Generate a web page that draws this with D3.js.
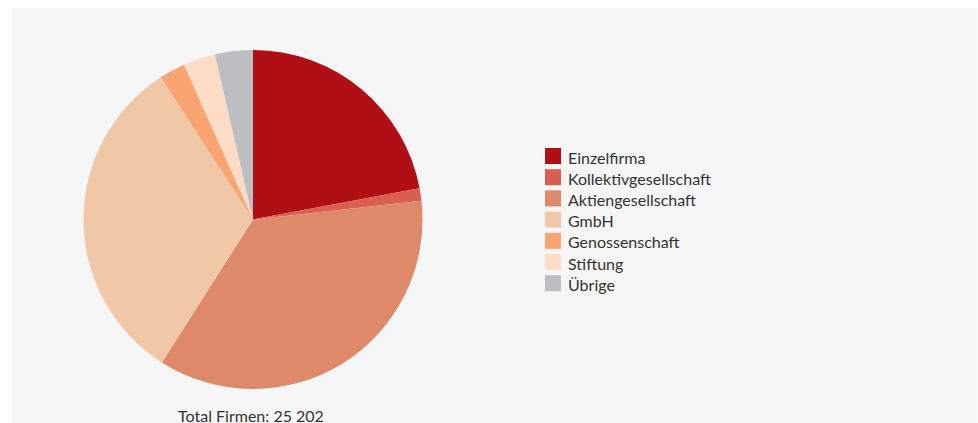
<!DOCTYPE html>
<html>
<head>
<meta charset="utf-8">
<script src="https://cdn.jsdelivr.net/npm/d3@7"></script>
<style>
  html, body { margin: 0; padding: 0; background: #ffffff; }
  svg { display: block; }
  text { font-family: Lato, "Open Sans", sans-serif; fill: #333333; }
</style>
</head>
<body>
<svg id="chart" width="978" height="423"></svg>
<script>
// Firms by legal form
const categories = ["Einzelfirma", "Kollektivgesellschaft", "Aktiengesellschaft", "GmbH", "Genossenschaft", "Stiftung", "Übrige"];
const counts = [5557, 300, 9022, 8014, 630, 770, 909];
const colors = ["#b00f16", "#d9604f", "#de8a6a", "#f0c8a8", "#f8a572", "#fddcc6", "#bcbec2"];
const totalLabel = "Total Firmen: 25 202";

const svg = d3.select("#chart");

// panel background
svg.append("rect")
  .attr("x", 11).attr("y", 8)
  .attr("width", 966).attr("height", 415)
  .attr("fill", "#f6f6f6");

const cx = 253, cy = 219.5, r = 169.5;

const pie = d3.pie().sort(null).value(d => d.value);
const arc = d3.arc().innerRadius(0).outerRadius(r);
const data = categories.map((c, i) => ({ name: c, value: counts[i] }));
const color = d3.scaleOrdinal().domain(categories).range(colors);

svg.append("g")
  .attr("transform", `translate(${cx},${cy})`)
  .selectAll("path")
  .data(pie(data))
  .join("path")
  .attr("d", arc)
  .attr("fill", d => color(d.data.name));

// legend
const legend = svg.append("g").attr("transform", "translate(545,148)");
const rowH = 21.2;
const rows = legend.selectAll("g")
  .data(categories)
  .join("g")
  .attr("transform", (d, i) => `translate(0,${i * rowH})`);
rows.append("rect")
  .attr("width", 16).attr("height", 16)
  .attr("fill", d => color(d));
rows.append("text")
  .attr("x", 23).attr("y", 15.5)
  .attr("font-size", 16)
  .text(d => d);

// total
svg.append("text")
  .attr("x", 251).attr("y", 421.5)
  .attr("text-anchor", "middle")
  .attr("font-size", 16)
  .text(totalLabel);
</script>
</body>
</html>
